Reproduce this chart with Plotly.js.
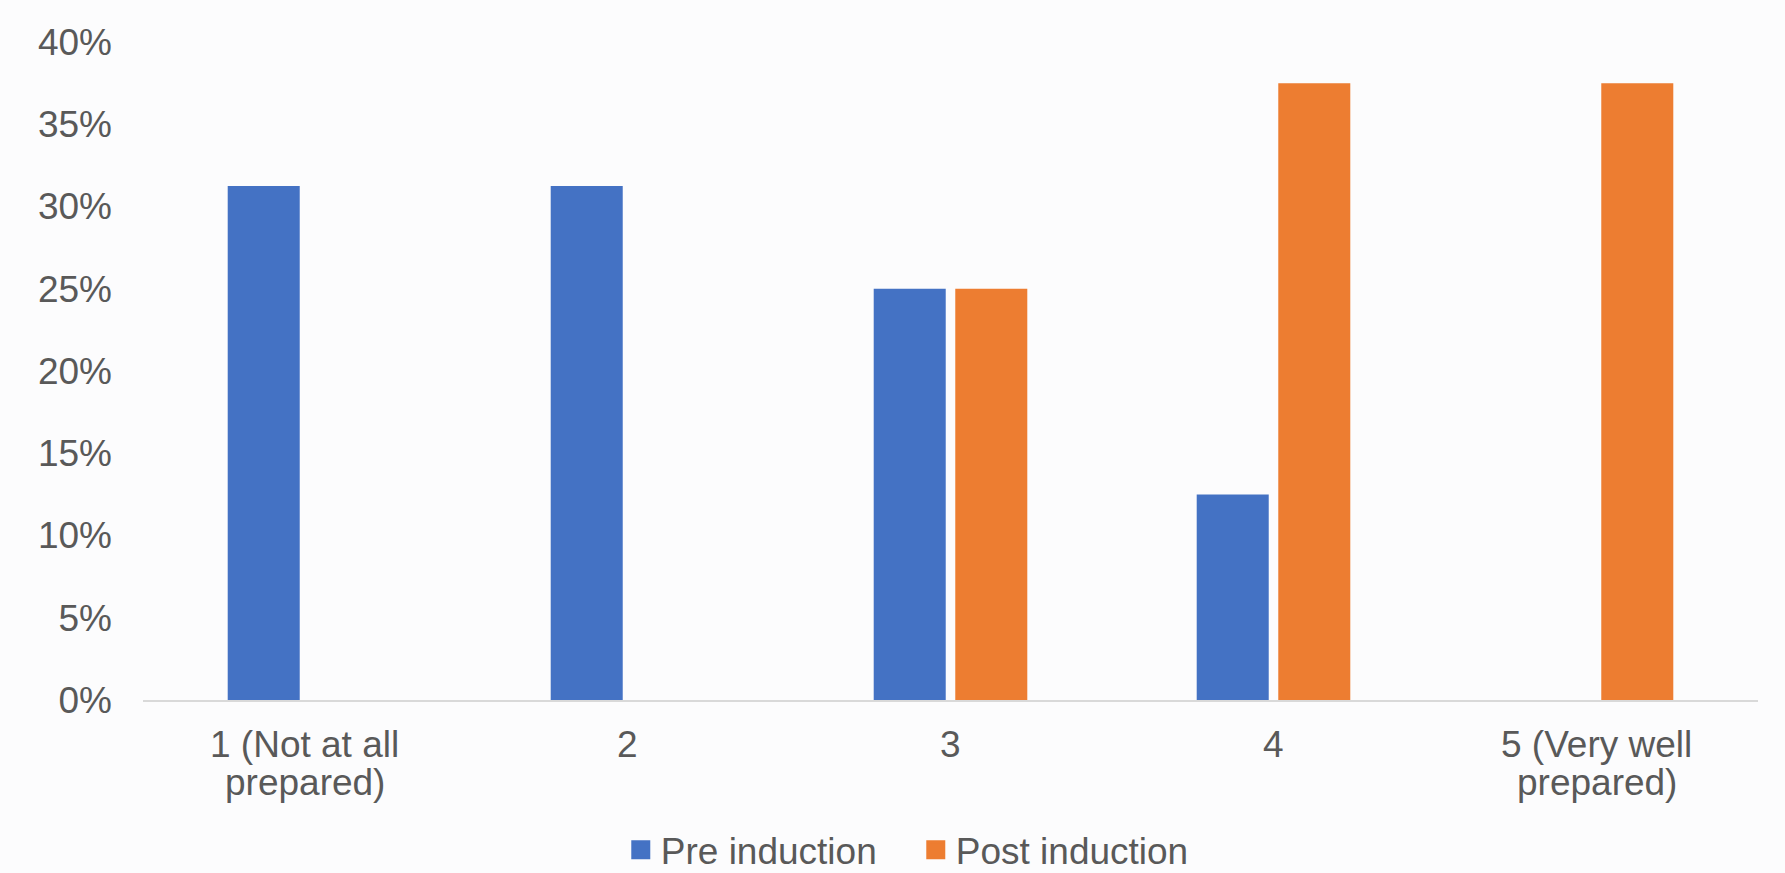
<!DOCTYPE html>
<html>
<head>
<meta charset="utf-8">
<script src="https://cdn.plot.ly/plotly-3.0.1.min.js"></script>
<style>
  html, body { margin: 0; padding: 0; background: #fcfcfd; }
  #chart { width: 1785px; height: 873px; }
</style>
</head>
<body>
<div id="chart"></div>
<script>
// Self-rated preparedness, share of respondents
const categories = ["1 (Not at all|prepared)", "2", "3", "4", "5 (Very well|prepared)"];
const preInduction = [0.3125, 0.3125, 0.25, 0.125, 0];
const postInduction = [0, 0, 0.25, 0.375, 0.375];
const yTicks = [0, 0.05, 0.10, 0.15, 0.20, 0.25, 0.30, 0.35, 0.40];

const seriesNames = ["Pre induction", "Post induction"];
const seriesColors = ["#4472C4", "#ED7D31"];

const textColor = "#595959";
const font = "Liberation Sans, Arial, sans-serif";
const labelSize = 37;
const labelLineGap = 38;   // tighter line spacing for wrapped category labels
const labelOffset = 22;

const bars = [preInduction, postInduction].map((vals, i) => ({
  type: "bar",
  name: seriesNames[i],
  legendgroup: seriesNames[i],
  showlegend: false,
  x: categories,
  y: vals,
  marker: { color: seriesColors[i] },
  hoverinfo: "skip"
}));

// Legend entries with larger square swatches
const legendKeys = seriesNames.map((name, i) => ({
  type: "scatter",
  mode: "markers",
  name: name,
  legendgroup: name,
  x: [null],
  y: [null],
  marker: { symbol: "square", size: 16, color: seriesColors[i],
            line: { width: 3, color: seriesColors[i] } },
  hoverinfo: "skip"
}));

// Category labels, one annotation per wrapped line, placed at the category's index
const categoryLabels = [];
categories.forEach((cat, idx) => {
  cat.split("|").forEach((line, k) => {
    categoryLabels.push({
      xref: "x", yref: "paper",
      x: idx, y: 0,
      xanchor: "center", yanchor: "top",
      yshift: -labelOffset - k * labelLineGap,
      text: line,
      showarrow: false,
      font: { family: font, size: labelSize, color: textColor }
    });
  });
});

const layout = {
  width: 1785,
  height: 873,
  margin: { l: 143, r: 27, t: 42, b: 173 },
  paper_bgcolor: "#fcfcfd",
  plot_bgcolor: "rgba(0,0,0,0)",
  barmode: "group",
  bargap: 0.495,
  bargroupgap: 0.117,
  font: { family: font, color: textColor, size: 36 },
  xaxis: {
    type: "category",
    showline: true,
    linecolor: "#d9d9d9",
    linewidth: 2,
    showgrid: false,
    zeroline: false,
    ticks: "",
    showticklabels: false,
    fixedrange: true
  },
  yaxis: {
    range: [0, 0.40],
    tickvals: yTicks,
    tickformat: ".0%",
    showgrid: false,
    zeroline: false,
    showline: false,
    ticks: "",
    ticklabelstandoff: 30,
    tickfont: { family: font, size: 37, color: textColor },
    fixedrange: true
  },
  annotations: categoryLabels,
  showlegend: true,
  legend: {
    orientation: "h",
    xref: "paper",
    x: 0.4785,
    xanchor: "center",
    yref: "container",
    y: 0.026,
    yanchor: "middle",
    font: { family: font, size: 37, color: textColor },
    itemwidth: 30,
    entrywidth: 250,
    entrywidthmode: "pixels",
    tracegroupgap: 0,
    bgcolor: "rgba(0,0,0,0)"
  }
};

Plotly.newPlot("chart", bars.concat(legendKeys), layout, { displayModeBar: false, staticPlot: true });
</script>
</body>
</html>
